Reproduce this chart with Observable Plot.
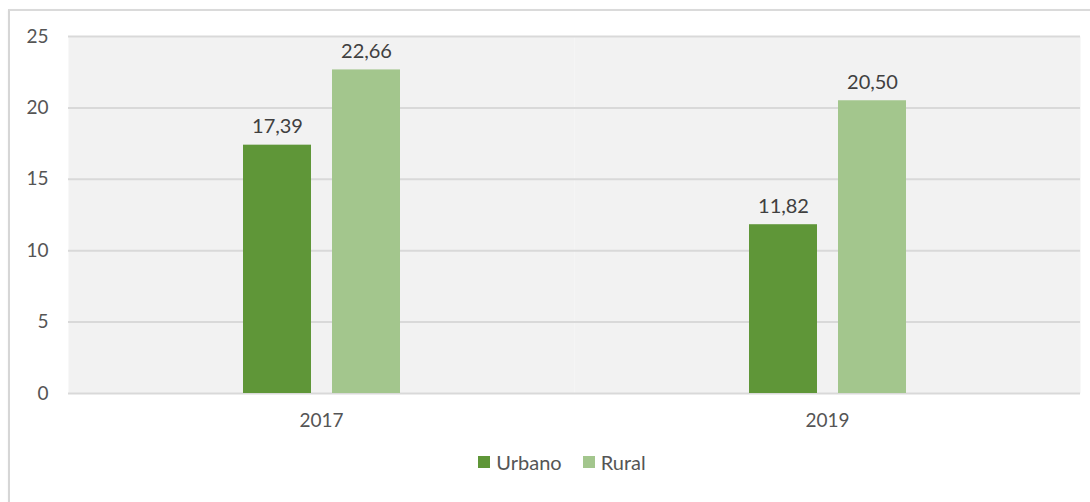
<!DOCTYPE html>
<html>
<head>
<meta charset="utf-8">
<script src="https://cdn.jsdelivr.net/npm/d3@7"></script>
<script src="https://cdn.jsdelivr.net/npm/@observablehq/plot@0.6"></script>
<style>
  html, body { margin: 0; padding: 0; background: #fff; width: 1090px; height: 502px; overflow: hidden; }
  #box { position: absolute; left: 8px; top: 9px; width: 1200px; height: 600px;
         border-left: 2px solid #d6d6d6; border-top: 2px solid #dadada;
         box-shadow: 0 1px 2px rgba(0,0,0,0.06); z-index: 0; }
  #chart { position: absolute; left: 0; top: 0; z-index: 1; }
  #legend { position: absolute; left: 34px; top: 450px; width: 1056px; display: flex; justify-content: center;
            gap: 21px; z-index: 1; font: 20px Lato, sans-serif; color: #555; }
  #legend .item { display: inline-flex; align-items: center; }
  #legend .sw { display: inline-block; width: 12px; height: 12px; margin-right: 6px; }
</style>
</head>
<body>
<div id="box"></div>
<div id="chart"></div>
<div id="legend"></div>
<script>
const years = ["2017", "2019"];
const series = ["Urbano", "Rural"];
const urbano = [17.39, 11.82];
const rural = [22.66, 20.50];
const colors = ["#5f9638", "#a3c68d"];
const yTicks = [0, 5, 10, 15, 20, 25];

const data = [];
years.forEach((yr, i) => {
  data.push({year: yr, series: series[0], value: urbano[i]});
  data.push({year: yr, series: series[1], value: rural[i]});
});
const fmt = v => d3.format(".2f")(v).replace(".", ",");

const chart = Plot.plot({
  width: 1090,
  height: 440,
  marginLeft: 68,
  marginRight: 10,
  marginTop: 36,
  marginBottom: 47,
  style: {fontFamily: "Lato, sans-serif", fontSize: "19px", color: "#555", background: "transparent"},
  fx: {domain: years, padding: 0, label: null, axis: "bottom", tickSize: 0, tickPadding: 20},
  x: {domain: series, paddingInner: 0.236, paddingOuter: 1.96, axis: null},
  y: {domain: [0, 25], ticks: yTicks, tickSize: 0, tickPadding: 20, label: null},
  color: {domain: series, range: colors},
  marks: [
    Plot.frame({fill: "#f2f2f2", stroke: null}),
    Plot.gridY(yTicks, {stroke: "#d9d9d9", strokeOpacity: 1, strokeWidth: 2}),
    Plot.barY(data, {fx: "year", x: "series", y: "value", fill: "series"}),
    Plot.text(data, {fx: "year", x: "series", y: "value", text: d => fmt(d.value),
      dy: -12, lineAnchor: "bottom", fill: "#404040", fontSize: 20})
  ]
});
document.getElementById("chart").appendChild(chart);

const legend = document.getElementById("legend");
series.forEach((s, i) => {
  const item = document.createElement("span");
  item.className = "item";
  item.innerHTML = `<span class="sw" style="background:${colors[i]}"></span>${s}`;
  legend.appendChild(item);
});
</script>
</body>
</html>
